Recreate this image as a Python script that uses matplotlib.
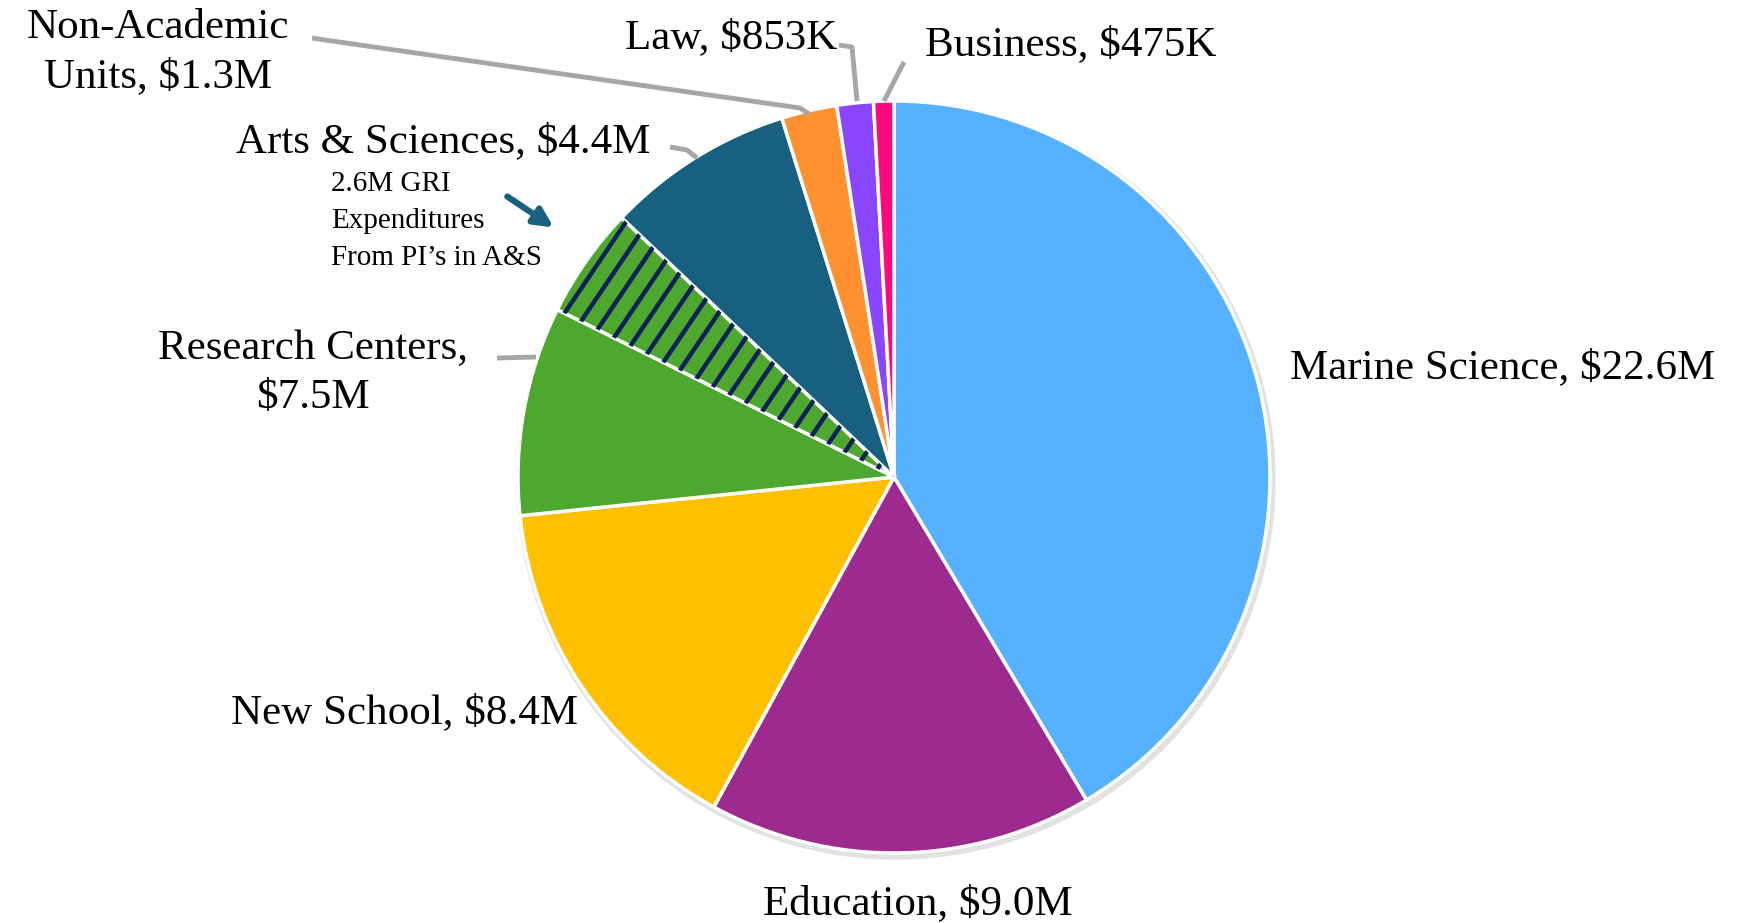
import matplotlib.pyplot as plt
import numpy as np
from matplotlib.patches import FancyArrowPatch, Circle

# data (millions of dollars)
units = ["Marine Science", "Education", "New School", "Research Centers",
         "GRI", "Arts & Sciences", "Non-Academic Units", "Law", "Business"]
research_total = 7.5
gri_part = 2.6
values = [22.6, 9.0, 8.4, research_total - gri_part, gri_part, 4.4, 1.3, 0.853, 0.475]
colors = ["#56B1FF", "#9C2A8F", "#FFC000", "#4EA72E", "#4EA72E",
          "#17607F", "#FF9130", "#8A46FF", "#FF0A7E"]
labels = ["Marine Science, $22.6M", "Education, $9.0M", "New School, $8.4M",
          "Research Centers,\n$7.5M", "", "Arts & Sciences, $4.4M",
          "Non-Academic\nUnits, $1.3M", "Law, $853K", "Business, $475K"]
note = "2.6M GRI\nExpenditures\nFrom PI\u2019s in A&S"

W, H = 1759, 923
plt.rcParams['font.family'] = ['Liberation Serif', 'DejaVu Serif']

fig = plt.figure(figsize=(W / 100, H / 100), dpi=100)
ax = fig.add_axes([0, 0, 1, 1])

cx, cy, r = 894, H - 477, 376

# faint shadow behind the pie
ax.add_patch(Circle((cx + 2, cy - 3), r + 3, color="#e2e2e2", zorder=0))

wedges, _ = ax.pie(values, colors=colors, startangle=90, counterclock=False,
                   center=(cx, cy), radius=r,
                   wedgeprops=dict(edgecolor="white", linewidth=2.5))

# hatch the GRI slice with navy diagonal lines
gri = wedges[4]
ang = np.deg2rad(56)
t = np.array([-900, 900])
for k in range(-60, 60):
    x0 = cx + k * 22
    ln, = ax.plot(x0 + t * np.cos(ang), cy + t * np.sin(ang),
                  color="#0E2158", lw=3.2, solid_capstyle="butt", zorder=3)
    ln.set_clip_path(gri)


def Y(y):
    return H - y


fs = 31
ls = 1.36
ax.text(1290, Y(368), labels[0], fontsize=fs, ha="left", va="center")
ax.text(918, Y(904), labels[1], fontsize=fs, ha="center", va="center")
ax.text(578, Y(713), labels[2], fontsize=fs, ha="right", va="center")
ax.text(313, Y(373), labels[3], fontsize=fs, ha="center", va="center",
        multialignment="center", linespacing=ls)
ax.text(443, Y(142), labels[5], fontsize=fs, ha="center", va="center")
ax.text(158, Y(52), labels[6], fontsize=fs, ha="center", va="center",
        multialignment="center", linespacing=ls)
ax.text(731, Y(38), labels[7], fontsize=fs, ha="center", va="center")
ax.text(925, Y(45), labels[8], fontsize=fs, ha="left", va="center")

# leader lines
lc = "#A6A6A6"
leaders = [
    [(497, 358), (536, 357)],
    [(670, 147), (687, 150), (697, 158)],
    [(312, 38), (325, 40), (800, 108), (809, 114)],
    [(839, 45), (852, 47), (857, 101)],
    [(904, 62), (884, 101)],
]
for pts in leaders:
    xs = [p[0] for p in pts]
    ys = [Y(p[1]) for p in pts]
    ax.plot(xs, ys, color=lc, lw=3.5, solid_capstyle="butt", zorder=1)

# GRI note with arrow
ax.text(331, Y(221), note, fontsize=21, ha="left", va="center", linespacing=1.53)
ax.add_patch(FancyArrowPatch((505, Y(195)), (556, Y(229)), arrowstyle="-|>",
                             mutation_scale=28, lw=4.5, color="#17607F"))

ax.set_xlim(0, W)
ax.set_ylim(0, H)
ax.set_aspect("equal")
ax.axis("off")

fig.savefig("out.png", dpi=100)
